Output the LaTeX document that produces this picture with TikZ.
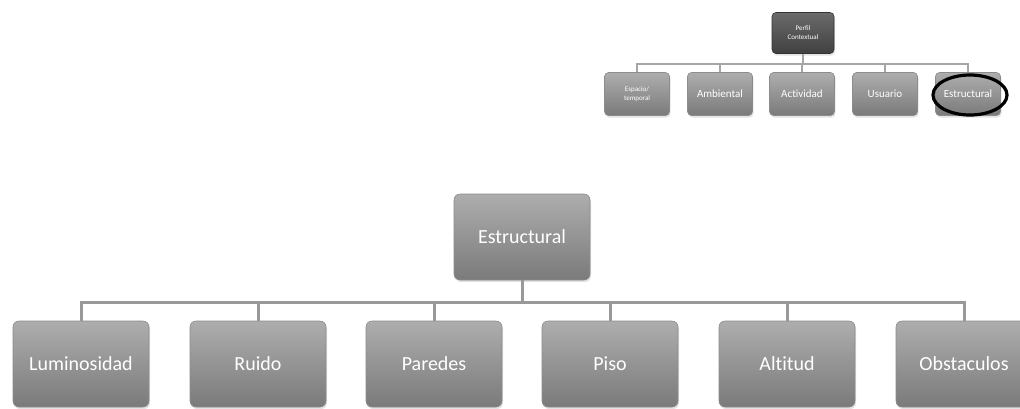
\documentclass[tikz,border=0pt]{standalone}
\usepackage{fontspec}
\setmainfont[Ligatures={NoCommon}]{Carlito}
\usetikzlibrary{shadows}
\begin{document}
\begin{tikzpicture}[x=1pt,y=-1pt,
  box/.style={rectangle, rounded corners=6pt, draw=black!45, line width=0.6pt,
    top color=black!32, bottom color=black!52, text=white!94,
    drop shadow={opacity=0.22, shadow xshift=1pt, shadow yshift=-2pt},
    inner sep=0pt, align=center},
  bigbox/.style={box, minimum width=136pt, minimum height=86pt, font=\fontsize{20}{22}\selectfont},
  smallbox/.style={box, rounded corners=4pt, minimum width=65pt, minimum height=43pt,
    font=\fontsize{11}{12}\selectfont},
  darkbox/.style={smallbox, top color=black!58, bottom color=black!75, draw=black!80},
  tinytext/.style={font=\fontsize{7}{9}\selectfont},
  link/.style={draw=black!40, line width=3pt},
  smalllink/.style={draw=black!35, line width=2pt},
  mark ring/.style={draw=black, line width=3.2pt}
]
\useasboundingbox[fill=white] (0,0) rectangle (1020,408);

% small overview chart
\node[darkbox, tinytext, minimum width=62pt, minimum height=41pt] (pc) at (803,33) {Perfil\\Contextual};
\node[smallbox, tinytext] (s1) at (637,94) {Espacio/\\temporal};
\node[smallbox] (s2) at (720,94) {Ambiental};
\node[smallbox] (s3) at (802,94) {Actividad};
\node[smallbox] (s4) at (885,94) {Usuario};
\node[smallbox] (s5) at (968,94) {Estructural};
\foreach \c in {s1,s2,s3,s4,s5}
  \draw[smalllink] (pc.south) -- (pc.south |- 0,64) -| (\c.north);
\draw[mark ring] (970,95) ellipse [x radius=37pt, y radius=20pt];

% detailed chart
\node[bigbox] (est) at (522,237) {Estructural};
\node[bigbox] (b1) at (81,364) {Luminosidad};
\node[bigbox] (b2) at (258,364) {Ruido};
\node[bigbox] (b3) at (434,364) {Paredes};
\node[bigbox] (b4) at (610,364) {Piso};
\node[bigbox] (b5) at (787,364) {Altitud};
\node[bigbox] (b6) at (964,364) {Obstaculos};
\foreach \c in {b1,b2,b3,b4,b5,b6}
  \draw[link] (est.south) -- (est.south |- 0,302) -| (\c.north);
\end{tikzpicture}
\end{document}
